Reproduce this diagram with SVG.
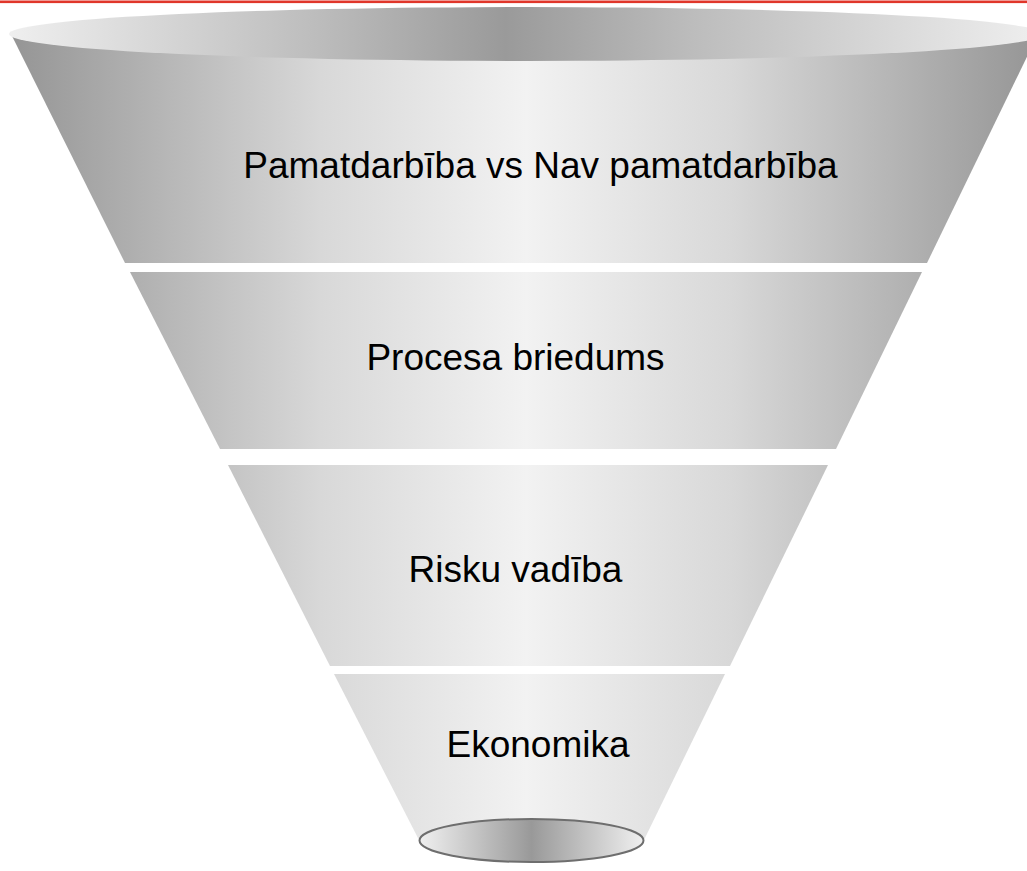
<svg xmlns="http://www.w3.org/2000/svg" width="1027" height="871" viewBox="0 0 1027 871">
  <defs>
    <linearGradient id="bodyGrad" gradientUnits="userSpaceOnUse" x1="12" y1="0" x2="1040" y2="0">
      <stop offset="0" stop-color="#959595"/>
      <stop offset="0.3" stop-color="#d8d8d8"/>
      <stop offset="0.5" stop-color="#f2f2f2"/>
      <stop offset="0.7" stop-color="#d8d8d8"/>
      <stop offset="1" stop-color="#959595"/>
    </linearGradient>
    <linearGradient id="topGrad" gradientUnits="userSpaceOnUse" x1="9" y1="0" x2="1043" y2="0">
      <stop offset="0" stop-color="#efefef"/>
      <stop offset="0.3" stop-color="#bcbcbc"/>
      <stop offset="0.48" stop-color="#9a9a9a"/>
      <stop offset="0.66" stop-color="#bcbcbc"/>
      <stop offset="1" stop-color="#efefef"/>
    </linearGradient>
    <linearGradient id="botGrad" gradientUnits="userSpaceOnUse" x1="419" y1="0" x2="644" y2="0">
      <stop offset="0" stop-color="#f0f0f0"/>
      <stop offset="0.5" stop-color="#999999"/>
      <stop offset="1" stop-color="#f0f0f0"/>
    </linearGradient>
  </defs>
  <style>
    .sec { fill: url(#bodyGrad); stroke: none; }
    .lbl { font-family: "Liberation Sans", Arial, sans-serif; font-size: 37px; fill: #000000; text-anchor: middle; }
  </style>
  <rect x="0" y="0.5" width="1027" height="2.6" fill="#e0362a"/>
  <g id="section1">
    <polygon class="sec" points="11,34 1038,34 927,263 125,263"/>
    <ellipse cx="526" cy="34" rx="517" ry="27" fill="url(#topGrad)"/>
    <text class="lbl" x="540.5" y="177.5">Pamatdarbība vs Nav pamatdarbība</text>
  </g>
  <g id="section2">
    <polygon class="sec" points="130,272 922,272 836,449 220,449"/>
    <text class="lbl" x="515.5" y="370">Procesa briedums</text>
  </g>
  <g id="section3">
    <polygon class="sec" points="228,465 828,465 730,666 330,666"/>
    <text class="lbl" x="515.5" y="582">Risku vadība</text>
  </g>
  <g id="section4">
    <polygon class="sec" points="334,674 725,674 644,840 419,840"/>
    <ellipse cx="531.5" cy="840.5" rx="112" ry="21.5" fill="url(#botGrad)" stroke="#6e6e6e" stroke-width="2"/>
    <text class="lbl" x="538" y="757">Ekonomika</text>
  </g>
  <g id="connectors"/>
</svg>
